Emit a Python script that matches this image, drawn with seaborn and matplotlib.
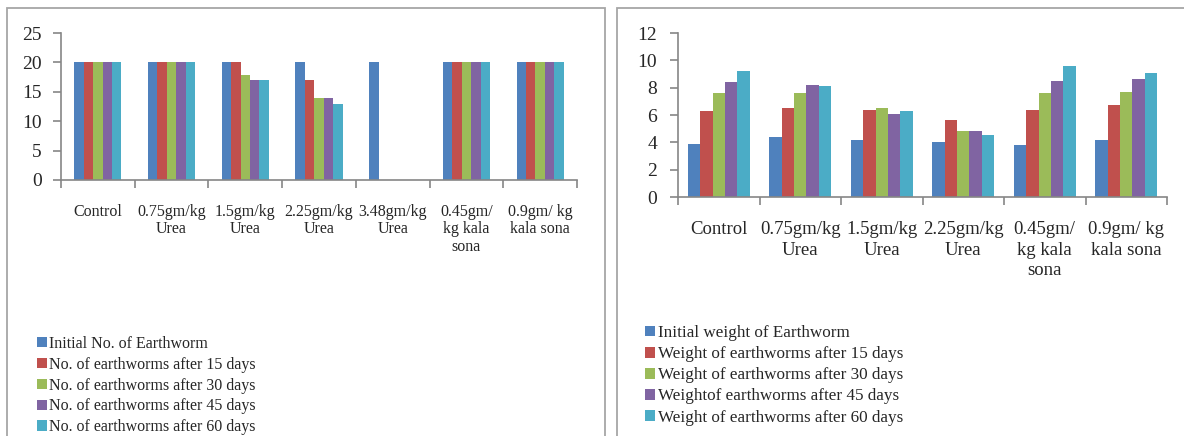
import pandas as pd
import numpy as np
import seaborn as sns
import matplotlib.pyplot as plt
from matplotlib.patches import Rectangle

# ---- data ----
count_groups = ["Control", "0.75gm/kg\nUrea", "1.5gm/kg\nUrea", "2.25gm/kg\nUrea",
                "3.48gm/kg\nUrea", "0.45gm/\nkg kala\nsona", "0.9gm/ kg\nkala sona"]
count_series = ["Initial No. of Earthworm", "No. of earthworms after 15 days",
                "No. of earthworms after 30 days", "No. of earthworms after 45 days",
                "No. of earthworms after 60 days"]
count_initial = [20, 20, 20, 20, 20, 20, 20]
count_d15 = [20, 20, 20, 17, 0, 20, 20]
count_d30 = [20, 20, 17.8, 14, 0, 20, 20]
count_d45 = [20, 20, 17, 14, 0, 20, 20]
count_d60 = [20, 20, 17, 13, 0, 20, 20]

weight_groups = ["Control", "0.75gm/kg\nUrea", "1.5gm/kg\nUrea", "2.25gm/kg\nUrea",
                 "0.45gm/\nkg kala\nsona", "0.9gm/ kg\nkala sona"]
weight_series = ["Initial weight of Earthworm", "Weight of earthworms after 15 days",
                 "Weight of earthworms after 30 days", "Weightof earthworms after 45 days",
                 "Weight of earthworms after 60 days"]
weight_initial = [3.9, 4.4, 4.2, 4.0, 3.8, 4.2]
weight_d15 = [6.3, 6.5, 6.4, 5.6, 6.4, 6.7]
weight_d30 = [7.6, 7.6, 6.5, 4.8, 7.6, 7.7]
weight_d45 = [8.4, 8.2, 6.1, 4.8, 8.5, 8.6]
weight_d60 = [9.2, 8.1, 6.3, 4.5, 9.6, 9.1]

colors = ["#4F81BD", "#C0504D", "#9BBB59", "#8064A2", "#4BACC6"]

W, H = 1184, 436


def long_df(groups, series, values):
    rows = []
    for s, vals in zip(series, values):
        for g, v in zip(groups, vals):
            rows.append({"group": g, "series": s, "value": v})
    return pd.DataFrame(rows)


df_count = long_df(count_groups, count_series,
                   [count_initial, count_d15, count_d30, count_d45, count_d60])
df_weight = long_df(weight_groups, weight_series,
                    [weight_initial, weight_d15, weight_d30, weight_d45, weight_d60])

sns.set_style("white")
plt.rcParams["font.family"] = ["Liberation Serif", "DejaVu Serif"]

fig = plt.figure(figsize=(W / 100, H / 100), dpi=100)

# panel frames
for x0, x1 in [(7, 605), (617, 1190)]:
    fig.add_artist(Rectangle((x0 / W, -0.1), (x1 - x0) / W, (H - 8) / H + 0.1,
                             transform=fig.transFigure, fill=False,
                             edgecolor="#A6A6A6", linewidth=1.3))


def draw(ax, df, groups, series, ymax, ystep, width, xfs, legend_pos, legend_fs,
         labpad, ypad, lspace):
    sns.barplot(data=df, x="group", y="value", hue="series", order=groups,
                hue_order=series, palette=colors, width=width, saturation=1,
                edgecolor="none", linewidth=0, ax=ax)
    ax.set_ylim(0, ymax)
    ax.set_yticks(np.arange(0, ymax + 0.1, ystep))
    ax.set_xlim(-0.5, len(groups) - 0.5)
    ax.set_xlabel("")
    ax.set_ylabel("")
    for s in ["top", "right"]:
        ax.spines[s].set_visible(False)
    for s in ["left", "bottom"]:
        ax.spines[s].set_color("#868686")
        ax.spines[s].set_linewidth(1.2)
    ax.set_xticks(np.arange(-0.5, len(groups)), minor=True)
    ax.tick_params(axis="x", which="minor", length=6, width=1.2, color="#868686",
                   direction="out", bottom=True)
    ax.tick_params(axis="x", which="major", length=0, pad=labpad, labelsize=xfs)
    ax.tick_params(axis="y", length=6, width=1.2, color="#868686", direction="out",
                   left=True, pad=ypad, labelsize=14)
    for lab in ax.get_xticklabels():
        lab.set_verticalalignment("top")
        lab.set_linespacing(lspace)
    handles, labels = ax.get_legend_handles_labels()
    ax.get_legend().remove()
    fig.legend(handles, labels, loc="upper left", bbox_to_anchor=legend_pos,
               bbox_transform=fig.transFigure, frameon=False, fontsize=legend_fs,
               handlelength=0.6, handleheight=0.6, handletextpad=0.15,
               labelspacing=0.3, borderpad=0, borderaxespad=0)


ax1 = fig.add_axes([61 / W, (H - 180) / H, (577 - 61) / W, (180 - 33) / H])
draw(ax1, df_count, count_groups, count_series, 25, 5, 0.64, 11.5,
     (37 / W, (H - 336) / H), 11.5, 17, 8, 1.13)

ax2 = fig.add_axes([678 / W, (H - 197) / H, (1167 - 678) / W, (197 - 33) / H])
draw(ax2, df_weight, weight_groups, weight_series, 12, 2, 0.76, 13.5,
     (645 / W, (H - 325) / H), 12.3, 17, 9, 1.3)

plt.savefig("out.png", dpi=100)
